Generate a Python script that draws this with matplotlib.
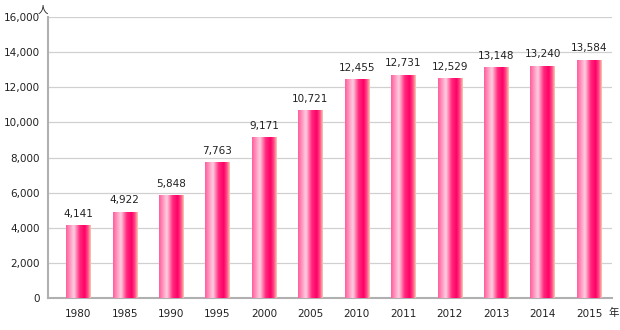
import matplotlib
matplotlib.use("Agg")
import matplotlib.pyplot as plt
import numpy as np
from matplotlib.colors import LinearSegmentedColormap

plt.rcParams['font.family'] = ['DejaVu Sans', 'Noto Sans CJK JP']

years = ["1980", "1985", "1990", "1995", "2000", "2005", "2010", "2011", "2012", "2013", "2014", "2015"]
values = [4141, 4922, 5848, 7763, 9171, 10721, 12455, 12731, 12529, 13148, 13240, 13584]
yticks = [0, 2000, 4000, 6000, 8000, 10000, 12000, 14000, 16000]

fig = plt.figure(figsize=(6.2, 3.3), dpi=100)
ax = fig.add_axes([0.0774, 0.097, 0.91, 0.851])

cmap = LinearSegmentedColormap.from_list("barg", [
    (0.0, "#ff5c9c"), (0.32, "#ffcfe0"), (0.55, "#ff2a7e"),
    (0.75, "#ff0066"), (0.88, "#ff4a8a"), (1.0, "#f6cfae")])
grad = np.linspace(0, 1, 256).reshape(1, -1)

x = np.arange(len(years))
bars = ax.bar(x, values, width=0.52, color="none", edgecolor="none", zorder=3)
for b in bars:
    x0, y0 = b.get_x(), b.get_y()
    w, h = b.get_width(), b.get_height()
    im = ax.imshow(grad, cmap=cmap, extent=(x0, x0 + w, y0, y0 + h),
                   aspect="auto", zorder=3, interpolation="bilinear")
    im.set_clip_path(b)

for xi, v in zip(x, values):
    ax.text(xi, v + 350, f"{v:,}", ha="center", va="bottom", fontsize=7.5, color="#222222")

ax.set_xlim(-0.65, 11.5)
ax.set_ylim(0, 16000)
ax.set_yticks(yticks)
ax.set_yticklabels([f"{t:,}" for t in yticks], fontsize=7.5, color="#222222")
ax.set_xticks(x)
ax.set_xticklabels(years, fontsize=7.5, color="#222222")
ax.tick_params(axis="both", length=0, pad=6)
ax.tick_params(axis="x", pad=8)
ax.grid(axis="y", color="#d0d0d0", linewidth=0.9, zorder=0)
ax.set_axisbelow(True)
for s in ["top", "right"]:
    ax.spines[s].set_visible(False)
ax.spines["left"].set_color("#b0b0b0")
ax.spines["left"].set_linewidth(1.5)
ax.spines["bottom"].set_color("#b0b0b0")
ax.spines["bottom"].set_linewidth(1.5)

fig.text(43 / 620, 1 - 10 / 330, "人", fontsize=7.5, ha="center", va="center",
         family=["Noto Sans CJK JP"], color="#222222")
fig.text(614 / 620, 1 - 313 / 330, "年", fontsize=7.5, ha="center", va="center",
         family=["Noto Sans CJK JP"], color="#222222")

fig.savefig("out.png", dpi=100)
